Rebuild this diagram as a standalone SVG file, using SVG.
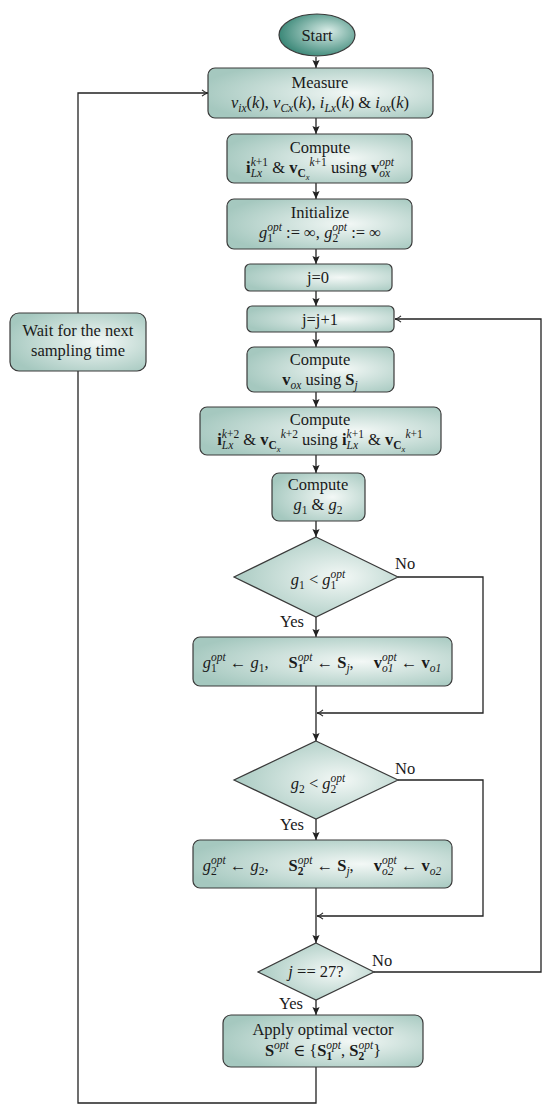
<svg xmlns="http://www.w3.org/2000/svg" width="550" height="1113" viewBox="0 0 550 1113" font-family="Liberation Serif, DejaVu Serif, serif">
<style>
.t{font-family:'Liberation Serif','DejaVu Serif',serif;font-size:16.5px;fill:#1a1a1a;text-anchor:middle}
.l{text-anchor:start}
.m{font-style:italic}
.b{font-weight:bold}
.s{font-size:11.5px}
.ss{font-size:8.5px}
.box{fill:url(#g);stroke:#3a3a3a;stroke-width:1.2}
.c{fill:none;stroke:#222;stroke-width:1.3}
</style>
<defs>
<radialGradient id="g" cx="0.6" cy="0.5" r="0.65" fx="0.65" fy="0.5">
<stop offset="0" stop-color="#f3f8f6"/>
<stop offset="1" stop-color="#a5c8bf"/>
</radialGradient>
<radialGradient id="gs" cx="0.6" cy="0.45" r="0.6" fx="0.65" fy="0.4">
<stop offset="0" stop-color="#d9ece7"/>
<stop offset="1" stop-color="#3b8878"/>
</radialGradient>
<marker id="a" viewBox="0 0 10 10" refX="10" refY="5" markerWidth="8" markerHeight="9" orient="auto" markerUnits="userSpaceOnUse">
<path d="M0,0.5 L10,5 L0,9.5 L2,5 z" fill="#222"/>
</marker>
<marker id="o" viewBox="0 0 10 10" refX="9.5" refY="5" markerWidth="8" markerHeight="8" orient="auto" markerUnits="userSpaceOnUse">
<path d="M2,1 Q5,4 9.5,5 Q5,6 2,9" fill="none" stroke="#222" stroke-width="1.3"/>
</marker>
</defs>

<g id="connectors">
<path class="c" d="M316,57 V68" marker-end="url(#a)"/>
<path class="c" d="M316,118 V134" marker-end="url(#a)"/>
<path class="c" d="M316,183 V199" marker-end="url(#a)"/>
<path class="c" d="M316,249 V264" marker-end="url(#a)"/>
<path class="c" d="M316,291 V306" marker-end="url(#a)"/>
<path class="c" d="M316,332 V347" marker-end="url(#a)"/>
<path class="c" d="M316,392 V407" marker-end="url(#a)"/>
<path class="c" d="M316,455 V473" marker-end="url(#a)"/>
<path class="c" d="M316,521 V537" marker-end="url(#a)"/>
<path class="c" d="M316,617 V637" marker-end="url(#a)"/>
<path class="c" d="M316,686 V741" marker-end="url(#a)"/>
<path class="c" d="M398,577 H483 V713 H317" marker-end="url(#o)"/>
<path class="c" d="M316,819 V840" marker-end="url(#a)"/>
<path class="c" d="M316,888 V943" marker-end="url(#a)"/>
<path class="c" d="M398,780 H483 V916 H317" marker-end="url(#o)"/>
<path class="c" d="M316,1000 V1015" marker-end="url(#a)"/>
<path class="c" d="M374,972 H541 V319 H395" marker-end="url(#o)"/>
<path class="c" d="M316,1067 V1103 H78 V371"/>
<path class="c" d="M78,313 V93 H208" marker-end="url(#o)"/>
<text class="t l" x="395" y="569">No</text>
<text class="t" x="292" y="627">Yes</text>
<text class="t l" x="395" y="774">No</text>
<text class="t" x="292" y="830">Yes</text>
<text class="t l" x="372" y="966">No</text>
<text class="t" x="291" y="1009">Yes</text>
</g>

<g id="start">
<ellipse cx="317" cy="35" rx="38" ry="21" fill="url(#gs)" stroke="#3a3a3a" stroke-width="1.2"/>
<text class="t" x="317" y="41">Start</text>
</g>

<g id="measure">
<rect class="box" x="208" y="68" width="225" height="50" rx="7"/>
<text class="t" x="320" y="88">Measure</text>
<text class="t" x="320" y="108"><tspan class="m">v</tspan><tspan class="s m" dy="4">ix</tspan><tspan dy="-4">(</tspan><tspan class="m">k</tspan><tspan>), </tspan><tspan class="m">v</tspan><tspan class="s m" dy="4">Cx</tspan><tspan dy="-4">(</tspan><tspan class="m">k</tspan><tspan>), </tspan><tspan class="m">i</tspan><tspan class="s m" dy="4">Lx</tspan><tspan dy="-4">(</tspan><tspan class="m">k</tspan><tspan>) &amp; </tspan><tspan class="m">i</tspan><tspan class="s m" dy="4">ox</tspan><tspan dy="-4">(</tspan><tspan class="m">k</tspan><tspan>)</tspan></text>
</g>

<g id="compute1">
<rect class="box" x="227" y="134" width="185" height="49" rx="7"/>
<text class="t" x="320" y="153">Compute</text>
<text class="t" x="320" y="173"><tspan class="b">i</tspan><tspan class="s m" dy="4">Lx</tspan><tspan class="s" dx="-11.5" dy="-11"><tspan class="m">k</tspan>+1</tspan><tspan dy="7"> &amp; </tspan><tspan class="b">v</tspan><tspan class="s b" dy="4">C</tspan><tspan class="ss m" dy="3">x</tspan><tspan class="s" dy="-14"><tspan class="m">k</tspan>+1</tspan><tspan dy="7"> using </tspan><tspan class="b">v</tspan><tspan class="s m" dy="4">ox</tspan><tspan class="s m" dx="-10.8" dy="-11">opt</tspan></text>
</g>

<g id="initialize">
<rect class="box" x="227" y="199" width="185" height="50" rx="7"/>
<text class="t" x="320" y="218">Initialize</text>
<text class="t" x="320" y="238"><tspan class="m">g</tspan><tspan class="s" dy="4">1</tspan><tspan class="s m" dx="-5.8" dy="-11">opt</tspan><tspan dy="7"> := ∞, </tspan><tspan class="m">g</tspan><tspan class="s" dy="4">2</tspan><tspan class="s m" dx="-5.8" dy="-11">opt</tspan><tspan dy="7"> := ∞</tspan></text>
</g>

<g id="j0">
<rect class="box" x="245" y="264" width="147" height="27" rx="5"/>
<text class="t" x="318" y="283">j=0</text>
</g>

<g id="jinc">
<rect class="box" x="247" y="306" width="147" height="26" rx="5"/>
<text class="t" x="320" y="325">j=j+1</text>
</g>

<g id="compute2">
<rect class="box" x="247" y="347" width="147" height="45" rx="7"/>
<text class="t" x="320" y="365">Compute</text>
<text class="t" x="320" y="385"><tspan class="b">v</tspan><tspan class="s m" dy="4">ox</tspan><tspan dy="-4"> using </tspan><tspan class="b">S</tspan><tspan class="s m" dy="4">j</tspan></text>
</g>

<g id="compute3">
<rect class="box" x="200" y="407" width="241" height="48" rx="7"/>
<text class="t" x="320" y="425">Compute</text>
<text class="t" x="320" y="445"><tspan class="b">i</tspan><tspan class="s m" dy="4">Lx</tspan><tspan class="s" dx="-11.5" dy="-11"><tspan class="m">k</tspan>+2</tspan><tspan dy="7"> &amp; </tspan><tspan class="b">v</tspan><tspan class="s b" dy="4">C</tspan><tspan class="ss m" dy="3">x</tspan><tspan class="s" dy="-14"><tspan class="m">k</tspan>+2</tspan><tspan dy="7"> using </tspan><tspan class="b">i</tspan><tspan class="s m" dy="4">Lx</tspan><tspan class="s" dx="-11.5" dy="-11"><tspan class="m">k</tspan>+1</tspan><tspan dy="7"> &amp; </tspan><tspan class="b">v</tspan><tspan class="s b" dy="4">C</tspan><tspan class="ss m" dy="3">x</tspan><tspan class="s" dy="-14"><tspan class="m">k</tspan>+1</tspan></text>
</g>

<g id="compute4">
<rect class="box" x="272" y="473" width="93" height="48" rx="7"/>
<text class="t" x="318" y="490">Compute</text>
<text class="t" x="318" y="510"><tspan class="m">g</tspan><tspan class="s" dy="4">1</tspan><tspan dy="-4"> &amp; </tspan><tspan class="m">g</tspan><tspan class="s" dy="4">2</tspan></text>
</g>

<g id="decision1">
<polygon class="box" points="316,537 398,577 316,617 234,577"/>
<text class="t" x="318" y="585"><tspan class="m">g</tspan><tspan class="s" dy="4">1</tspan><tspan dy="-4"> &lt; </tspan><tspan class="m">g</tspan><tspan class="s" dy="4">1</tspan><tspan class="s m" dx="-5.8" dy="-11">opt</tspan></text>
</g>

<g id="update1">
<rect class="box" x="193" y="637" width="259" height="49" rx="7"/>
<text class="t" x="322" y="668"><tspan class="m">g</tspan><tspan class="s" dy="4">1</tspan><tspan class="s m" dx="-5.8" dy="-11">opt</tspan><tspan dy="7"> ← </tspan><tspan class="m">g</tspan><tspan class="s" dy="4">1</tspan><tspan dy="-4">,</tspan><tspan class="b" dx="20">S</tspan><tspan class="s b" dy="4">1</tspan><tspan class="s m" dx="-5.8" dy="-11">opt</tspan><tspan dy="7"> ← </tspan><tspan class="b">S</tspan><tspan class="s m" dy="4">j</tspan><tspan dy="-4">,</tspan><tspan class="b" dx="20">v</tspan><tspan class="s m" dy="4">o1</tspan><tspan class="s m" dx="-11.5" dy="-11">opt</tspan><tspan dy="7"> ← </tspan><tspan class="b">v</tspan><tspan class="s m" dy="4">o1</tspan></text>
</g>

<g id="decision2">
<polygon class="box" points="316,741 398,780 316,819 234,780"/>
<text class="t" x="318" y="789"><tspan class="m">g</tspan><tspan class="s" dy="4">2</tspan><tspan dy="-4"> &lt; </tspan><tspan class="m">g</tspan><tspan class="s" dy="4">2</tspan><tspan class="s m" dx="-5.8" dy="-11">opt</tspan></text>
</g>

<g id="update2">
<rect class="box" x="193" y="840" width="259" height="48" rx="7"/>
<text class="t" x="322" y="871"><tspan class="m">g</tspan><tspan class="s" dy="4">2</tspan><tspan class="s m" dx="-5.8" dy="-11">opt</tspan><tspan dy="7"> ← </tspan><tspan class="m">g</tspan><tspan class="s" dy="4">2</tspan><tspan dy="-4">,</tspan><tspan class="b" dx="20">S</tspan><tspan class="s b" dy="4">2</tspan><tspan class="s m" dx="-5.8" dy="-11">opt</tspan><tspan dy="7"> ← </tspan><tspan class="b">S</tspan><tspan class="s m" dy="4">j</tspan><tspan dy="-4">,</tspan><tspan class="b" dx="20">v</tspan><tspan class="s m" dy="4">o2</tspan><tspan class="s m" dx="-11.5" dy="-11">opt</tspan><tspan dy="7"> ← </tspan><tspan class="b">v</tspan><tspan class="s m" dy="4">o2</tspan></text>
</g>

<g id="decision3">
<polygon class="box" points="316,943 374,972 316,1000 258,972"/>
<text class="t" x="316" y="977"><tspan class="m">j</tspan><tspan> == 27?</tspan></text>
</g>

<g id="apply">
<rect class="box" x="223" y="1015" width="200" height="52" rx="8"/>
<text class="t" x="323" y="1035">Apply optimal vector</text>
<text class="t" x="323" y="1056"><tspan class="b">S</tspan><tspan class="s m" dy="-7">opt</tspan><tspan dy="7"> ∈ {</tspan><tspan class="b">S</tspan><tspan class="s b" dy="4">1</tspan><tspan class="s m" dx="-5.8" dy="-11">opt</tspan><tspan dy="7">, </tspan><tspan class="b">S</tspan><tspan class="s b" dy="4">2</tspan><tspan class="s m" dx="-5.8" dy="-11">opt</tspan><tspan dy="7">}</tspan></text>
</g>

<g id="wait">
<rect class="box" x="10" y="313" width="136" height="58" rx="9"/>
<text class="t" x="78" y="336">Wait for the next</text>
<text class="t" x="78" y="356">sampling time</text>
</g>
</svg>
